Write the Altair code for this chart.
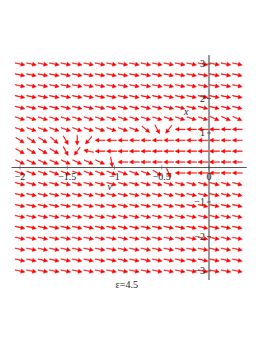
import altair as alt
import pandas as pd

# ---- data ----
# grid: 20 columns in t from -2 to 0.3, 20 rows in x from 3 down to -3
t_start, t_end, n_cols = -2.0, 0.3, 20
x_start, x_end, n_rows = 3.0, -3.0, 20

# arrow direction per row (screen degrees, counter-clockwise from +t), top row first
rows = [
    [-12] * 20,
    [-12] * 20,
    [-12] * 20,
    [-12] * 20,
    [-14] * 20,
    [-18] * 17 + [-24] * 3,
    [-20] * 11 + [-40, -62, -128] + [180] * 6,
    [-32, -32, -32, -40, -60, -90, -130] + [180] * 13,
    [-30, -30, -30, -30, -62, -125, 168] + [180] * 13,
    [-25] * 8 + [-80] + [180] * 11,
    [-20] * 12 + [-32, -65] + [180] * 6,
    [-15] * 20,
    [-13] * 20,
    [-12] * 20,
    [-12] * 20,
    [-12] * 20,
    [-12] * 20,
    [-12] * 20,
    [-12] * 20,
    [-12] * 20,
]

x_ticks = [-2, -1.5, -1, -0.5, 0]
x_tick_labels = ["\u22122", "\u22121.5", "\u22121", "\u22120.5", "0"]
y_ticks = [3, 2, 1, -1, -2, -3]
y_tick_labels = ["3", "2", "1", "\u22121", "\u22122", "\u22123"]

axis_t_range = [-2.09, 0.40]
axis_x_range = [-3.26, 3.26]

# ---- build tables ----
recs = []
for r, row in enumerate(rows):
    xv = x_start + r * (x_end - x_start) / (n_rows - 1)
    for c, ang in enumerate(row):
        tv = t_start + c * (t_end - t_start) / (n_cols - 1)
        recs.append({"t": tv, "x": xv, "rot": (-ang) % 360})
arrows = pd.DataFrame(recs)

t_dom = [-2.127, 0.5185]
x_dom = [-4.072, 4.623]
xs = alt.Scale(domain=t_dom, nice=False, zero=False)
ys = alt.Scale(domain=x_dom, nice=False, zero=False)

ARROW = "M-1,-0.06L0.22,-0.06L0.22,-0.4L1,0L0.22,0.4L0.22,0.06L-1,0.06Z"

arrow_layer = alt.Chart(arrows).mark_point(
    shape=ARROW, filled=True, fill="#ff0000", stroke="#ff0000",
    strokeWidth=0.4, opacity=1, size=100
).encode(
    x=alt.X("t:Q", scale=xs, axis=None),
    y=alt.Y("x:Q", scale=ys, axis=None),
    angle=alt.Angle("rot:Q", scale=None),
)

haxis = alt.Chart(pd.DataFrame({"a": [axis_t_range[0]], "b": [axis_t_range[1]], "y": [0]})).mark_rule(
    color="#555555", strokeWidth=1
).encode(x=alt.X("a:Q", scale=xs, axis=None), x2="b:Q", y=alt.Y("y:Q", scale=ys, axis=None))

vaxis = alt.Chart(pd.DataFrame({"a": [axis_x_range[0]], "b": [axis_x_range[1]], "x": [0]})).mark_rule(
    color="#333333", strokeWidth=1
).encode(y=alt.Y("a:Q", scale=ys, axis=None), y2="b:Q", x=alt.X("x:Q", scale=xs, axis=None))

xt = pd.DataFrame({"t": x_ticks, "lab": x_tick_labels, "y": [0] * len(x_ticks),
                   "dx": [0, 0, 0, 0, -3]})
xtick_marks = alt.Chart(xt).mark_tick(orient="vertical", size=4, thickness=1, color="#555555").encode(
    x=alt.X("t:Q", scale=xs, axis=None), y=alt.Y("y:Q", scale=ys, axis=None))
xtick_text = alt.Chart(xt).mark_text(
    font="Liberation Serif", fontSize=10, baseline="middle", align="center", dy=9, color="#222222"
).encode(x=alt.X("t:Q", scale=xs, axis=None), y=alt.Y("y:Q", scale=ys, axis=None),
         text="lab:N", xOffset=alt.XOffset("dx:Q", scale=None))

yt = pd.DataFrame({"x": y_ticks, "lab": y_tick_labels, "t": [0] * len(y_ticks)})
ytick_marks = alt.Chart(yt).mark_tick(orient="horizontal", size=4, thickness=1, color="#333333").encode(
    x=alt.X("t:Q", scale=xs, axis=None), y=alt.Y("x:Q", scale=ys, axis=None))
ytick_text = alt.Chart(yt).mark_text(
    font="Liberation Serif", fontSize=10, baseline="middle", align="right", dx=-4, color="#222222"
).encode(x=alt.X("t:Q", scale=xs, axis=None), y=alt.Y("x:Q", scale=ys, axis=None), text="lab:N")

var_titles = pd.DataFrame({"t": [-1.05, -0.24], "x": [-0.56, 1.61], "lab": ["v", "x"]})
var_text = alt.Chart(var_titles).mark_text(
    font="Liberation Serif", fontSize=10, fontStyle="italic", baseline="middle", align="center", color="#222222"
).encode(x=alt.X("t:Q", scale=xs, axis=None), y=alt.Y("x:Q", scale=ys, axis=None), text="lab:N")

caption = pd.DataFrame({"t": [-0.87], "x": [-3.41], "lab": ["\u03b5=4.5"]})
cap_text = alt.Chart(caption).mark_text(
    font="Liberation Serif", fontSize=10, baseline="middle", align="center", color="#222222"
).encode(x=alt.X("t:Q", scale=xs, axis=None), y=alt.Y("x:Q", scale=ys, axis=None), text="lab:N")

chart = alt.layer(
    haxis, vaxis, xtick_marks, ytick_marks, arrow_layer, xtick_text, ytick_text, var_text, cap_text
).properties(
    width=250, height=300, padding=0,
    autosize=alt.AutoSizeParams(type="none"),
).configure_view(stroke=None)

chart.save("out.html", embed_options={"renderer": "svg", "actions": False})
